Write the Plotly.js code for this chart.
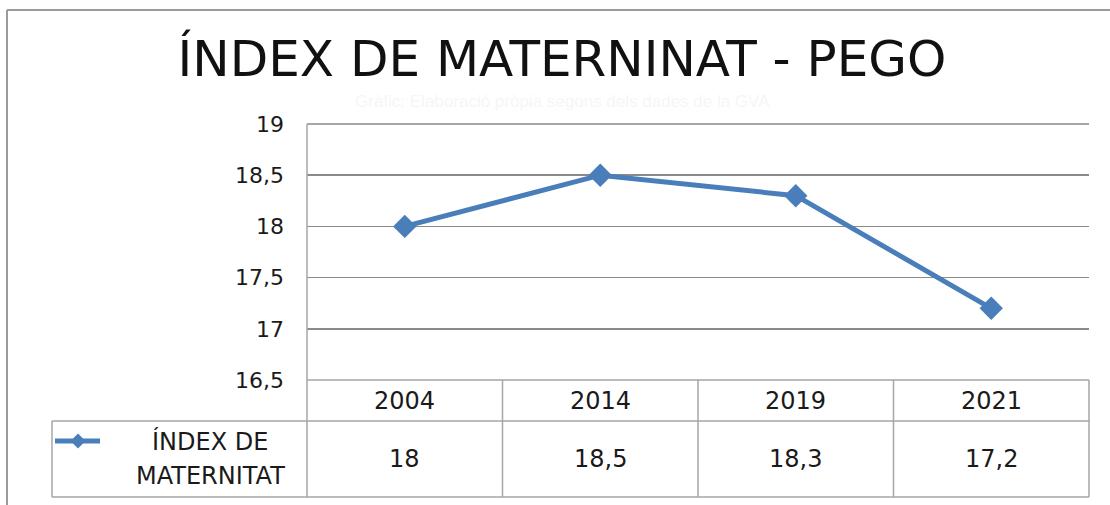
<!DOCTYPE html>
<html>
<head>
<meta charset="utf-8">
<script src="https://cdn.plot.ly/plotly-3.0.1.min.js"></script>
<style>html,body{margin:0;padding:0;background:#fff;}#chart{width:1110px;height:505px;}</style>
</head>
<body>
<div id="chart"></div>
<script>
const categories = ['2004', '2014', '2019', '2021'];
const values = [18, 18.5, 18.3, 17.2];
const valueLabels = ['18', '18,5', '18,3', '17,2'];
const seriesName = 'ÍNDEX DE MATERNITAT';
const legendLines = ['ÍNDEX DE', 'MATERNITAT'];
const yTickVals = [16.5, 17, 17.5, 18, 18.5, 19];
const yTickText = ['16,5', '17', '17,5', '18', '18,5', '19'];
const titleText = 'ÍNDEX DE MATERNINAT - PEGO';
const sourceText = 'Gràfic: Elaboració pròpia segons dels dades de la GVA';

const W = 1110, H = 505;
const mL = 307, mR = 21, mT = 124, mB = 125;
const pw = W - mL - mR, ph = H - mT - mB;
const px = x => (x - mL) / pw;
const py = y => (H - mB - y) / ph;

const lineColor = '#4a7ebb';
const gridColor = '#8a8a8a';
const tableColor = '#a6a6a6';
const font = 'DejaVu Sans, sans-serif';
const txt = '#1a1a1a';

const rowMid = py(421), rowBot = py(497), legLeft = px(52);
const shapes = [];
const ln = (x0, y0, x1, y1, c, w) => shapes.push({type: 'line', xref: 'paper', yref: 'paper', x0, y0, x1, y1, line: {color: c, width: w}});
// frame
ln(px(7), py(10), px(7), -0.7, '#9a9a9a', 2);
ln(px(7), py(10), 1.2, py(10), '#9a9a9a', 2);
// top and bottom gridlines
ln(0, 1, 1, 1, gridColor, 1.5);
ln(0, 0, 1, 0, tableColor, 1.5);
// table
ln(legLeft, rowMid, 1, rowMid, tableColor, 1.5);
ln(legLeft, rowBot, 1, rowBot, tableColor, 1.5);
ln(legLeft, rowMid, legLeft, rowBot, tableColor, 1.5);
for (let i = 0; i <= categories.length; i++) {
  const x = i / categories.length;
  ln(x, i === 0 ? 1 : 0, x, rowBot, tableColor, 1.5);
}
// legend icon
const iy = py(441);
ln(px(55), iy, px(100), iy, lineColor, 5);
const cx = 78, cyp = 441, d = 7.5;
shapes.push({type: 'path', xref: 'paper', yref: 'paper', fillcolor: lineColor, line: {color: lineColor, width: 0},
  path: `M ${px(cx - d)} ${py(cyp)} L ${px(cx)} ${py(cyp - d)} L ${px(cx + d)} ${py(cyp)} L ${px(cx)} ${py(cyp + d)} Z`});

const annotations = [];
categories.forEach((c, i) => {
  annotations.push({xref: 'paper', yref: 'paper', x: (i + 0.5) / categories.length, y: py(401), text: c, showarrow: false,
    xanchor: 'center', yanchor: 'middle', font: {family: font, size: 24, color: txt}});
  annotations.push({xref: 'paper', yref: 'paper', x: (i + 0.5) / categories.length, y: py(459), text: valueLabels[i], showarrow: false,
    xanchor: 'center', yanchor: 'middle', font: {family: font, size: 24, color: txt}});
});
legendLines.forEach((t, i) => {
  annotations.push({xref: 'paper', yref: 'paper', x: px(210), y: py(i === 0 ? 441 : 476), text: t, showarrow: false,
    xanchor: 'center', yanchor: 'middle', font: {family: font, size: 24, color: txt}});
});
annotations.push({xref: 'paper', yref: 'paper', x: px(562), y: py(101), text: sourceText, showarrow: false,
  xanchor: 'center', yanchor: 'middle', font: {family: 'Liberation Sans, sans-serif', size: 17, color: '#f6f6f6'}});

const trace = {
  x: categories, y: values, name: seriesName, type: 'scatter', mode: 'lines+markers',
  line: {color: lineColor, width: 5}, marker: {symbol: 'diamond', size: 18, color: lineColor},
  cliponaxis: false, hoverinfo: 'x+y'
};

const layout = {
  width: W, height: H, margin: {l: mL, r: mR, t: mT, b: mB},
  paper_bgcolor: '#fff', plot_bgcolor: '#fff', showlegend: false,
  separators: ',.',
  title: {text: titleText, xref: 'container', yref: 'container', x: 562 / W, xanchor: 'center', y: 1 - 58 / H, yanchor: 'middle',
    font: {family: font, size: 50, color: '#111'}},
  xaxis: {type: 'category', range: [-0.5, 3.5], showgrid: false, zeroline: false, showticklabels: false, showline: false, ticks: ''},
  yaxis: {range: [16.5, 19], tickvals: yTickVals, ticktext: yTickText, showgrid: true, gridcolor: gridColor, gridwidth: 1.5,
    zeroline: false, showline: false, ticks: '', ticklabelstandoff: 22, tickfont: {family: font, size: 22, color: txt}},
  shapes, annotations
};

Plotly.newPlot('chart', [trace], layout, {displayModeBar: false, staticPlot: true});
</script>
</body>
</html>
